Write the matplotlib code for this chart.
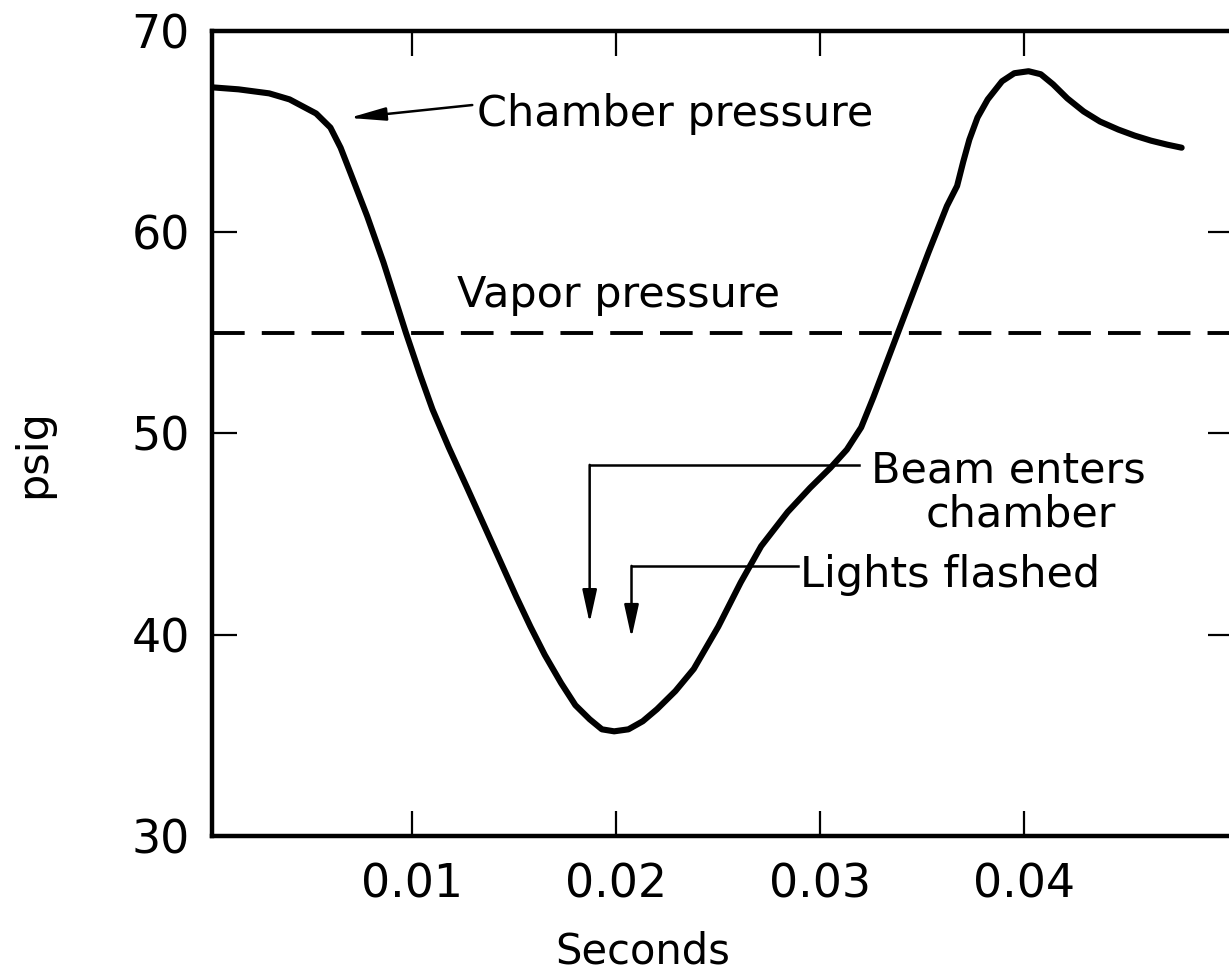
import matplotlib
matplotlib.use("Agg")
import matplotlib.pyplot as plt
import numpy as np

# chamber pressure trace (seconds, psig)
t = np.array([0.0002, 0.0015, 0.0030, 0.0040, 0.0053, 0.0060, 0.0065, 0.0070,
              0.0078, 0.0086, 0.0097, 0.0104, 0.0110, 0.0118, 0.0127, 0.0135,
              0.0143, 0.0151, 0.0158, 0.0165, 0.0173, 0.0180, 0.0187, 0.0193,
              0.0199, 0.0206, 0.0213, 0.0220, 0.0229, 0.0238, 0.0250, 0.0261,
              0.0271, 0.0284, 0.0295, 0.0305, 0.0313, 0.0320, 0.0326, 0.0332,
              0.0338, 0.0344, 0.0353, 0.0362, 0.0367, 0.0370, 0.0373, 0.0377,
              0.0382, 0.0389, 0.0395, 0.0402, 0.0408, 0.0414, 0.0421, 0.0429,
              0.0437, 0.0446, 0.0454, 0.0462, 0.0470, 0.0477])
p = np.array([67.2, 67.1, 66.9, 66.6, 65.9, 65.2, 64.2, 62.9,
              60.8, 58.5, 55.0, 52.9, 51.2, 49.3, 47.3, 45.5,
              43.7, 41.9, 40.4, 39.0, 37.6, 36.5, 35.8, 35.3,
              35.2, 35.3, 35.7, 36.3, 37.2, 38.3, 40.4, 42.6,
              44.4, 46.1, 47.3, 48.3, 49.2, 50.3, 51.8, 53.4,
              55.0, 56.6, 59.0, 61.3, 62.3, 63.5, 64.6, 65.7,
              66.6, 67.5, 67.9, 68.0, 67.85, 67.35, 66.65, 66.0,
              65.5, 65.1, 64.8, 64.55, 64.35, 64.2])
vapor = 55.0

xticks = [0.01, 0.02, 0.03, 0.04]
xlabels = ["0.01", "0.02", "0.03", "0.04"]
yticks = [30, 40, 50, 60, 70]

fs = 31
fig = plt.figure(figsize=(12.29, 9.74), dpi=100)
ax = fig.add_axes([0.1725, 0.1417, 0.8305, 0.8265])

ax.plot(t, p, color="k", lw=4.4, solid_capstyle="round", solid_joinstyle="round")
ax.axhline(vapor, color="k", lw=2.8, dashes=(8.4, 4.4))

ax.set_xlim(0.0002, 0.0502)
ax.set_ylim(30, 70)
ax.set_xticks(xticks)
ax.set_xticklabels(xlabels)
ax.set_yticks(yticks)
ax.tick_params(direction="in", length=18, width=1.6, top=True, right=True,
               labelsize=33, pad=16, color="k")
ax.tick_params(axis="x", pad=19)
for s in ax.spines.values():
    s.set_linewidth(3.2)

ax.set_ylabel("psig", fontsize=fs)
ax.yaxis.set_label_coords(-0.155, 0.475)
fig.text(0.523, 0.011, "Seconds", fontsize=30, ha="center", va="baseline")

# annotations
ax.text(0.0132, 65.28, "Chamber pressure", fontsize=fs, va="baseline")
ax.annotate("", xy=(0.00692, 65.68), xytext=(0.01295, 66.32),
            arrowprops=dict(arrowstyle="-|>,head_length=1.1,head_width=0.2",
                            lw=1.8, color="k", mutation_scale=20,
                            shrinkA=0, shrinkB=0))
ax.text(0.0122, 56.3, "Vapor pressure", fontsize=fs, va="baseline")

ax.text(0.0392, 47.55, "Beam enters", fontsize=fs, ha="center", va="baseline")
ax.text(0.0398, 45.4, "chamber", fontsize=fs, ha="center", va="baseline")
ax.text(0.0290, 42.38, "Lights flashed", fontsize=fs, va="baseline")

beam = (0.03188, 0.0187, 48.44, 40.59)
lights = (0.02889, 0.02075, 43.42, 39.85)
for x_end, x_drop, y_h, y_tip in [beam, lights]:
    ax.plot([x_end, x_drop], [y_h, y_h], color="k", lw=1.8)
    ax.annotate("", xy=(x_drop, y_tip), xytext=(x_drop, y_h),
                arrowprops=dict(arrowstyle="-|>,head_length=1.0,head_width=0.22",
                                lw=1.8, color="k", mutation_scale=20,
                                shrinkA=0, shrinkB=0))

fig.savefig("out.png", dpi=100)
